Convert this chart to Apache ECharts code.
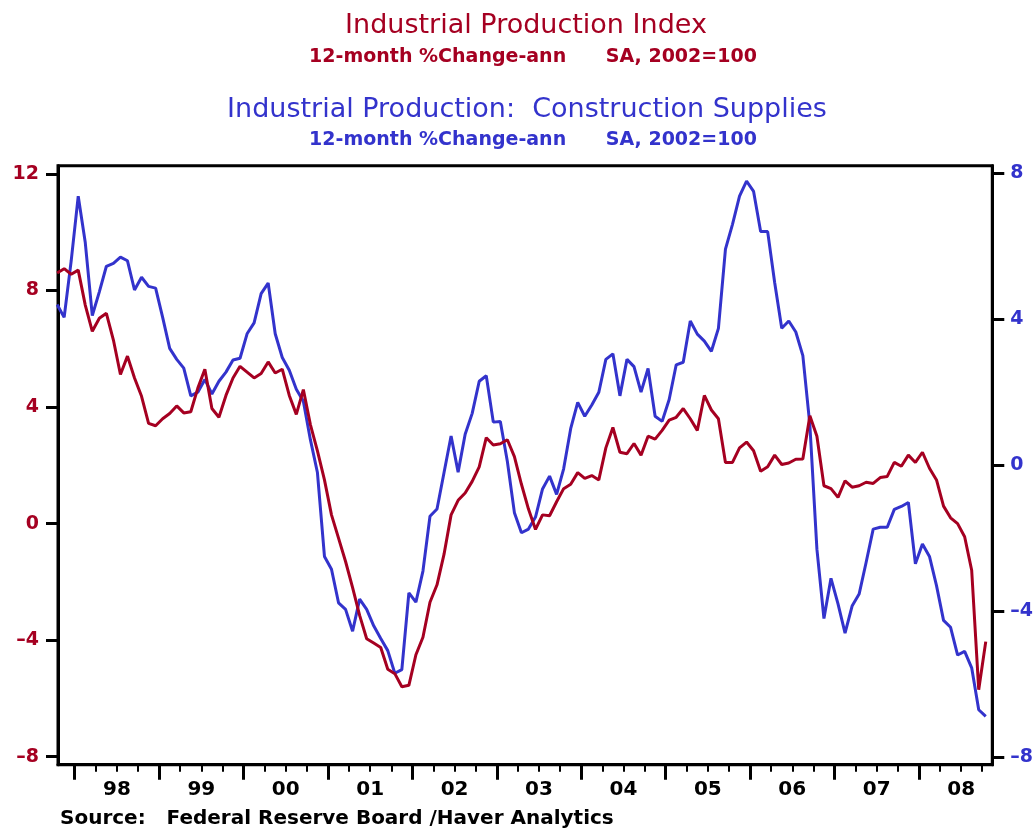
<!DOCTYPE html>
<html>
<head>
<meta charset="utf-8">
<title>Industrial Production</title>
<script src="https://cdn.jsdelivr.net/npm/echarts@6/dist/echarts.min.js"></script>
<style>
  html, body { margin: 0; padding: 0; background: #fff; }
  #chart { width: 1036px; height: 832px; }
</style>
</head>
<body>
<div id="chart"></div>
<script>
// monthly observations, Oct 1997 .. Oct 2008
const firstYear = 1997;
const firstMonth = 10;

// Industrial Production Index, 12-month % change (left axis)
const ipIndex = [
  8.6, 8.75, 8.56, 8.7, 7.5, 6.6, 7.05, 7.22, 6.3, 5.12,
  5.75, 5.0, 4.37, 3.44, 3.36, 3.6, 3.78, 4.04, 3.8, 3.84,
  4.65, 5.3, 3.95, 3.65, 4.4, 5.0, 5.4, 5.2, 5.0, 5.15,
  5.55, 5.17, 5.3, 4.4, 3.75, 4.6, 3.4, 2.5, 1.5, 0.3,
  -0.5, -1.3, -2.2, -3.15, -3.95, -4.1, -4.25, -5.0, -5.15, -5.6,
  -5.55, -4.5, -3.9, -2.7, -2.1, -1.05, 0.3, 0.8, 1.05, 1.45,
  1.95, 2.95, 2.7, 2.74, 2.88, 2.3, 1.35, 0.5, -0.2, 0.3,
  0.27, 0.75, 1.2, 1.35, 1.75, 1.55, 1.65, 1.5, 2.6, 3.3,
  2.45, 2.4, 2.75, 2.35, 3.0, 2.9, 3.2, 3.55, 3.65, 3.95,
  3.6, 3.2, 4.4, 3.9, 3.6, 2.1, 2.1, 2.6, 2.8, 2.5,
  1.8, 1.95, 2.35, 2.03, 2.08, 2.21, 2.22, 3.7, 3.0, 1.3,
  1.2, 0.9, 1.47, 1.25, 1.3, 1.42, 1.38, 1.58, 1.62, 2.1,
  1.97, 2.35, 2.1, 2.45, 1.9, 1.5, 0.6, 0.2, 0.0, -0.45,
  -1.6, -5.7, -4.05
];

// Industrial Production: Construction Supplies, 12-month % change (right axis)
const constructionSupplies = [
  4.4, 4.05, 5.6, 7.37, 6.1, 4.1, 4.75, 5.45, 5.53, 5.7,
  5.6, 4.8, 5.15, 4.9, 4.85, 4.05, 3.2, 2.9, 2.66, 1.9,
  2.0, 2.35, 1.95, 2.3, 2.55, 2.88, 2.93, 3.6, 3.9, 4.7,
  4.99, 3.6, 2.95, 2.6, 2.08, 1.75, 0.7, -0.2, -2.5, -2.85,
  -3.77, -3.95, -4.55, -3.67, -3.95, -4.4, -4.75, -5.08, -5.7, -5.6,
  -3.5, -3.75, -2.9, -1.4, -1.2, -0.2, 0.8, -0.19, 0.85, 1.42,
  2.3, 2.45, 1.18, 1.2, 0.1, -1.3, -1.85, -1.75, -1.42, -0.65,
  -0.3, -0.8, -0.1, 1.0, 1.72, 1.34, 1.65, 2.0, 2.9, 3.05,
  1.9, 2.9, 2.7, 2.0, 2.65, 1.34, 1.2, 1.8, 2.75, 2.82,
  3.95, 3.59, 3.4, 3.12, 3.75, 5.92, 6.6, 7.37, 7.78, 7.5,
  6.4, 6.4, 5.0, 3.75, 3.95, 3.65, 3.0, 1.1, -2.3, -4.2,
  -3.1, -3.8, -4.6, -3.86, -3.53, -2.66, -1.75, -1.7, -1.7, -1.21,
  -1.13, -1.02, -2.7, -2.16, -2.5, -3.3, -4.25, -4.44, -5.2, -5.1,
  -5.55, -6.7, -6.88
];

const yearTicks = [1998, 1999, 2000, 2001, 2002, 2003, 2004, 2005, 2006, 2007, 2008];
const yearLabels = ['98', '99', '00', '01', '02', '03', '04', '05', '06', '07', '08'];
const leftTicks = [-8, -4, 0, 4, 8, 12];
const rightTicks = [-8, -4, 0, 4, 8];

// month -> decimal year (mid-month)
const monthPos = ipIndex.map((_, i) => {
  const m = firstMonth - 1 + i;
  return firstYear + Math.floor(m / 12) + ((m % 12) + 0.5) / 12;
});

const quarterTicks = [];
yearTicks.forEach(y => { quarterTicks.push(y + 0.25, y + 0.5, y + 0.75); });
const yearMids = yearTicks.map(y => y + 0.5);

const red = '#a50021';
const blue = '#3333cc';
const font = 'DejaVu Sans';
const minus = v => String(v).replace('-', '\u2013');

const xMin = 1997.802, xMax = 2008.869;

const option = {
  animation: false,
  backgroundColor: '#fff',
  title: [
    { text: 'Industrial Production Index', left: 526, top: 12, textAlign: 'center', padding: 0,
      textStyle: { color: red, fontFamily: font, fontWeight: 'normal', fontSize: 27 } },
    { text: '12-month %Change-ann      SA, 2002=100', left: 533, top: 48, textAlign: 'center', padding: 0,
      textStyle: { color: red, fontFamily: font, fontWeight: 'bold', fontSize: 19 } },
    { text: 'Industrial Production:  Construction Supplies', left: 527, top: 96, textAlign: 'center', padding: 0,
      textStyle: { color: blue, fontFamily: font, fontWeight: 'normal', fontSize: 27 } },
    { text: '12-month %Change-ann      SA, 2002=100', left: 533, top: 131, textAlign: 'center', padding: 0,
      textStyle: { color: blue, fontFamily: font, fontWeight: 'bold', fontSize: 19 } },
    { text: 'Source:   Federal Reserve Board /Haver Analytics', left: 60, top: 809, padding: 0,
      textStyle: { color: '#000', fontFamily: font, fontWeight: 'bold', fontSize: 20 } }
  ],
  grid: {
    left: 58, right: 43.3, top: 165.7, bottom: 67.3,
    show: true, borderColor: '#000', borderWidth: 3
  },
  xAxis: [
    {
      type: 'value', min: xMin, max: xMax, position: 'bottom',
      axisLine: { show: true, onZero: false, lineStyle: { color: '#000', width: 3 } },
      axisTick: { show: true, customValues: quarterTicks, length: 7, lineStyle: { color: '#000', width: 2 } },
      axisLabel: {
        customValues: yearMids, margin: 15, color: '#000',
        fontFamily: font, fontWeight: 'bold', fontSize: 20,
        formatter: v => yearLabels[yearTicks.indexOf(Math.floor(v))]
      },
      splitLine: { show: false }
    },
    {
      type: 'value', min: xMin, max: xMax, position: 'bottom',
      axisLine: { show: false, onZero: false },
      axisTick: { show: true, customValues: yearTicks, length: 15, lineStyle: { color: '#000', width: 3 } },
      axisLabel: { show: false },
      splitLine: { show: false }
    }
  ],
  yAxis: [
    {
      type: 'value', position: 'left', min: -8.275, max: 12.285,
      axisLine: { show: true, onZero: false, lineStyle: { color: '#000', width: 3 } },
      axisTick: { show: true, customValues: leftTicks, length: 12, lineStyle: { color: '#000', width: 3 } },
      axisLabel: {
        customValues: leftTicks, margin: 19, color: red,
        fontFamily: font, fontWeight: 'bold', fontSize: 19, formatter: minus
      },
      splitLine: { show: false }
    },
    {
      type: 'value', position: 'right', min: -8.205, max: 8.205,
      axisLine: { show: true, onZero: false, lineStyle: { color: '#000', width: 3 } },
      axisTick: { show: true, customValues: rightTicks, length: 12, lineStyle: { color: '#000', width: 3 } },
      axisLabel: {
        customValues: rightTicks, margin: 18, color: blue,
        fontFamily: font, fontWeight: 'bold', fontSize: 19, formatter: minus
      },
      splitLine: { show: false }
    }
  ],
  series: [
    {
      name: 'Industrial Production: Construction Supplies',
      type: 'line', xAxisIndex: 0, yAxisIndex: 1,
      data: constructionSupplies.map((v, i) => [monthPos[i], v]),
      showSymbol: false,
      lineStyle: { color: blue, width: 3 },
      itemStyle: { color: blue }
    },
    {
      name: 'Industrial Production Index',
      type: 'line', xAxisIndex: 0, yAxisIndex: 0,
      data: ipIndex.map((v, i) => [monthPos[i], v]),
      showSymbol: false,
      lineStyle: { color: red, width: 3 },
      itemStyle: { color: red }
    }
  ]
};

const chart = echarts.init(document.getElementById('chart'));
chart.setOption(option);
</script>
</body>
</html>
